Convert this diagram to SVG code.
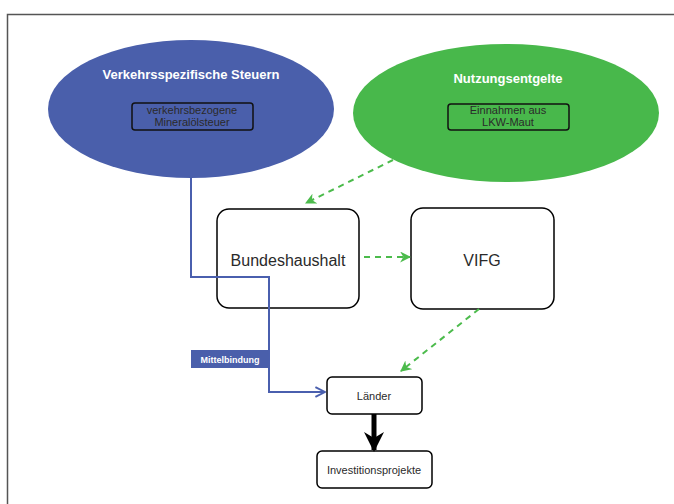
<svg xmlns="http://www.w3.org/2000/svg" width="674" height="504" viewBox="0 0 674 504">
<style>
.box{fill:#fff;stroke:#000;stroke-width:1.5}
.inner{fill:none;stroke:#111;stroke-width:1.5}
.t{font-family:"Liberation Sans",Arial,sans-serif;fill:#2a2a2a;text-anchor:middle}
.title{font-family:"Liberation Sans",Arial,sans-serif;fill:#fff;font-weight:bold;font-size:13px;text-anchor:middle}
.dash{fill:none;stroke:#4cbb4c;stroke-width:2;stroke-dasharray:6,5}
</style>
<defs>
<marker id="ga" viewBox="0 0 10 10" refX="9" refY="5" markerWidth="11" markerHeight="11" markerUnits="userSpaceOnUse" orient="auto">
<path d="M0,0 L10,5 L0,10 L3,5 Z" fill="#4cbb4c"/>
</marker>
<marker id="ba" viewBox="0 0 10 10" refX="9" refY="5" markerWidth="12" markerHeight="12" markerUnits="userSpaceOnUse" orient="auto">
<path d="M1,1 L9,5 L1,9" fill="none" stroke="#4a5fae" stroke-width="1.6"/>
</marker>
<marker id="ka" viewBox="0 0 10 10" refX="9" refY="5" markerWidth="20" markerHeight="20" markerUnits="userSpaceOnUse" orient="auto">
<path d="M0,0 L10,5 L0,10 L3,5 Z" fill="#000"/>
</marker>
</defs>
<rect width="674" height="504" fill="#fff"/>
<path d="M7.5,504 L7.5,14.5 L674,14.5" fill="none" stroke="#555" stroke-width="1.5"/>
<g id="node-steuern">
<ellipse cx="191" cy="109" rx="143" ry="69" fill="#4a5fab"/>
<text class="title" x="191" y="79">Verkehrsspezifische Steuern</text>
<rect class="inner" x="132" y="103" width="121" height="27" rx="3"/>
<text class="t" x="192" y="114" font-size="11">verkehrsbezogene</text>
<text class="t" x="192" y="126" font-size="11">Mineralölsteuer</text>
</g>
<g id="node-nutzung">
<ellipse cx="506" cy="113" rx="153" ry="69" fill="#48b84b"/>
<text class="title" x="508" y="83">Nutzungsentgelte</text>
<rect class="inner" x="448" y="104" width="121" height="26" rx="3"/>
<text class="t" x="508" y="114" font-size="11">Einnahmen aus</text>
<text class="t" x="508" y="126" font-size="11">LKW-Maut</text>
</g>
<g id="node-bundeshaushalt">
<rect class="box" x="217" y="209" width="142" height="99" rx="12"/>
<text class="t" x="288" y="266" font-size="16">Bundeshaushalt</text>
</g>
<g id="node-vifg">
<rect class="box" x="411" y="208" width="143" height="101" rx="12"/>
<text class="t" x="482" y="266" font-size="16">VIFG</text>
</g>
<g id="node-laender">
<rect class="box" x="327" y="377" width="95" height="37" rx="5"/>
<text class="t" x="374" y="400" font-size="11">Länder</text>
</g>
<g id="node-investitionsprojekte">
<rect class="box" x="317" y="451" width="115" height="37" rx="5"/>
<text class="t" x="374" y="474" font-size="11">Investitionsprojekte</text>
</g>
<g id="connectors">
<path d="M191,178 L191,277 L269,277 L269,392 L325,392" fill="none" stroke="#4a5fae" stroke-width="2" marker-end="url(#ba)"/>
<path class="dash" d="M393,160 L306,203" marker-end="url(#ga)"/>
<path class="dash" d="M364,257 L410,257" marker-end="url(#ga)"/>
<path class="dash" d="M479,309 L401,371" marker-end="url(#ga)"/>
<path d="M374,414 L374,450" fill="none" stroke="#000" stroke-width="5" marker-end="url(#ka)"/>
</g>
<g id="label-mittelbindung">
<rect x="191" y="350" width="78" height="18" fill="#4a5fab"/>
<text x="230" y="362.5" font-family="'Liberation Sans',Arial,sans-serif" font-size="9" font-weight="bold" fill="#fff" text-anchor="middle">Mittelbindung</text>
</g>
</svg>
